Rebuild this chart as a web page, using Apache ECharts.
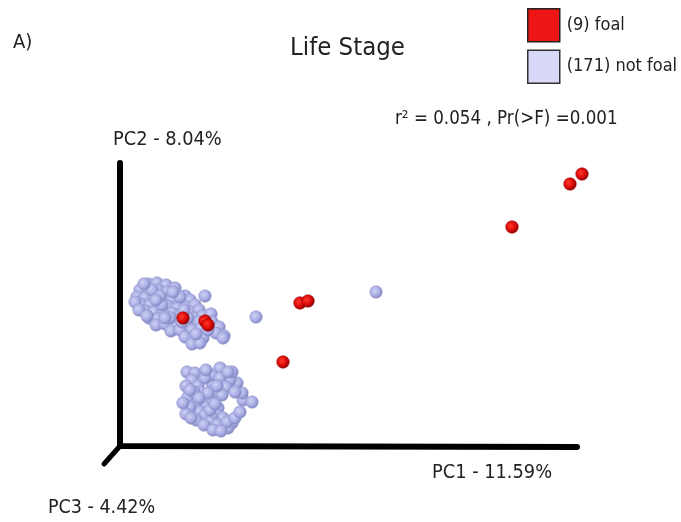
<!DOCTYPE html>
<html>
<head>
<meta charset="utf-8">
<script src="https://cdn.jsdelivr.net/npm/echarts@6/dist/echarts.min.js"></script>
<style>
  html, body { margin: 0; padding: 0; background: #fff; }
  #chart { width: 681px; height: 522px; }
</style>
</head>
<body>
<div id="chart"></div>
<script>
// PC1 / PC2 scores (axis units)
var foalPoints = [
  [63,128],[85,125],[88,121],[180,143],[188,145],[163,84],[392,219],[450,262],[462,272]
];
var notFoalUpper = [
  [28,162],[37,163],[46,161],[55,158],[20,156],[29,155],[38,156],[47,154],[56,152],[65,150],
  [17,149],[25,148],[34,149],[43,147],[52,146],[61,144],[70,146],[85,150],
  [21,142],[30,141],[39,142],[48,140],[57,138],[66,139],[75,141],
  [25,135],[34,134],[43,135],[52,133],[61,131],[70,134],[79,136],
  [29,128],[38,127],[47,129],[56,126],[74,128],[83,130],[91,132],
  [36,121],[45,122],[54,120],[70,122],[79,124],[92,124],[99,119],
  [51,115],[60,116],[72,116],[81,118],[96,113],[104,110],
  [65,109],[74,106],[83,108],[103,108],[72,102],[80,103],
  [32,156],[42,141],[50,128],[62,124],[40,150],[60,149],[68,128],[88,116],[76,112],
  [24,162],[15,144],[19,136],[27,130],[36,146],[53,154],[45,128],[64,136]
];
var notFoalLower = [
  [67,74],[75,73],[72,66],[66,60],[78,60],[80,54],[68,49],[74,54],[83,46],[75,41],
  [87,39],[93,46],[95,54],[92,63],[98,38],[80,34],[70,39],[97,31],[103,28],[112,23],
  [100,19],[108,18],[92,29],[85,31],[90,24],[97,21],[107,24],[115,28],[120,34],[123,46],
  [132,44],[122,53],[117,63],[110,66],[112,74],[100,78],[92,71],[85,68],[100,68],[106,59],
  [115,54],[102,51],[88,53],[76,26],[84,21],[93,16],[101,15],[66,32],[71,28],[63,43],
  [79,48],[90,36],[108,74],[97,60],[86,76],[70,56],[95,42]
];
var notFoalOutliers = [[136,129],[256,154]];

// axis frame: PC1 / PC2 lines and the PC3 stub
var frameMain = [[457,-1],[0,0],[0,283]];
var framePc3 = [[0,0],[-16,-18]];

var seriesNames = ['(9) foal', '(171) not foal'];
var labels = {
  panel: 'A)',
  title: 'Life Stage',
  stats: 'r\u00b2 = 0.054 , Pr(>F) =0.001',
  pc1: 'PC1 - 11.59%',
  pc2: 'PC2 - 8.04%',
  pc3: 'PC3 - 4.42%'
};

var font = "'DejaVu Sans Condensed', Roboto, sans-serif";
var textColor = '#222';

function txt(text, left, top, size) {
  return {
    text: text, left: left, top: top, padding: 0,
    textStyle: {fontFamily: font, fontSize: size, fontWeight: 'normal', color: textColor}
  };
}

function ball(light, mid, dark) {
  return {
    type: 'radial', x: 0.4, y: 0.4, r: 0.6,
    colorStops: [
      {offset: 0, color: light},
      {offset: 0.6, color: mid},
      {offset: 1, color: dark}
    ]
  };
}

var chart = echarts.init(document.getElementById('chart'));
var option = {
  animation: false,
  backgroundColor: '#fff',
  title: [
    txt(labels.panel, 13, 33, 20),
    txt(labels.title, 290, 35, 25.5),
    txt(labels.stats, 395, 110, 18.6),
    txt(labels.pc2, 113, 130, 19.8),
    txt(labels.pc1, 432, 463, 19.8),
    txt(labels.pc3, 48, 498, 19.5)
  ],
  legend: {
    orient: 'vertical',
    left: 527,
    top: 8,
    padding: 0,
    itemWidth: 32,
    itemHeight: 33,
    itemGap: 7,
    icon: 'rect',
    textStyle: {fontFamily: font, fontSize: 18, color: textColor, padding: [0, 0, 0, 2]},
    data: [
      {name: seriesNames[0], itemStyle: {color: '#ee1515', borderColor: '#222', borderWidth: 1.5, opacity: 1}},
      {name: seriesNames[1], itemStyle: {color: '#d8d8f8', borderColor: '#333', borderWidth: 1.5, opacity: 1}}
    ]
  },
  grid: {left: 100, top: 161, width: 490, height: 310},
  xAxis: {type: 'value', min: -20, max: 470, show: false},
  yAxis: {type: 'value', min: -25, max: 285, show: false},
  series: [
    {
      type: 'line', data: frameMain, clip: false, symbol: 'none', silent: true,
      lineStyle: {color: '#000', width: 6, cap: 'round', join: 'miter'}, z: 1
    },
    {
      type: 'line', data: framePc3, clip: false, symbol: 'none', silent: true,
      lineStyle: {color: '#000', width: 5, cap: 'round'}, z: 1
    },
    {
      name: seriesNames[1], type: 'scatter', symbolSize: 12.5, z: 2,
      data: notFoalUpper.concat(notFoalLower, notFoalOutliers),
      itemStyle: {opacity: 1, color: ball('#cfd2f4', '#aaaee4', '#7f84c0'), borderColor: '#9598cc', borderWidth: 0.6}
    },
    {
      name: seriesNames[0], type: 'scatter', symbolSize: 12.5, z: 3,
      data: foalPoints,
      itemStyle: {opacity: 1, color: ball('#ff3a2a', '#dd0a0a', '#8a0000'), borderColor: '#900', borderWidth: 0.6}
    }
  ]
};
chart.setOption(option);
</script>
</body>
</html>
